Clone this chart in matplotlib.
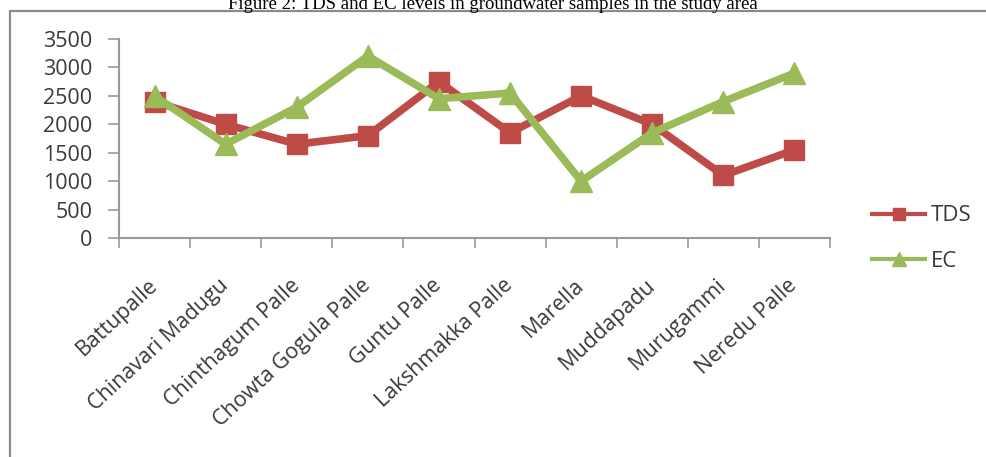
import matplotlib
matplotlib.use("Agg")
import matplotlib.pyplot as plt
from matplotlib.patches import Rectangle
from matplotlib.lines import Line2D

categories = ["Battupalle", "Chinavari Madugu", "Chinthagum Palle", "Chowta Gogula Palle",
              "Guntu Palle", "Lakshmakka Palle", "Marella", "Muddapadu", "Murugammi", "Neredu Palle"]
tds = [2400, 2000, 1650, 1800, 2750, 1850, 2500, 2000, 1100, 1550]
ec = [2500, 1650, 2300, 3200, 2450, 2550, 1000, 1850, 2400, 2900]
y_ticks = [0, 500, 1000, 1500, 2000, 2500, 3000, 3500]
title = "Figure 2: TDS and EC levels in groundwater samples in the study area"

W, H = 986, 457
fig = plt.figure(figsize=(W / 100, H / 100), dpi=100)
fig.patch.set_facecolor("white")

# outer chart frame
frame = Rectangle((10 / W, -0.2), 1.2, (H - 11) / H + 0.2, transform=fig.transFigure,
                  fill=False, edgecolor="#8a8a8a", linewidth=1.6, zorder=0)
fig.patches.append(frame)

fig.text(0.5, 1 - 9 / H, title, ha="center", va="baseline",
         family="Liberation Serif", fontsize=13.5, color="black")

ax = fig.add_axes([119 / W, 1 - 238 / H, (830 - 119) / W, 199 / H])
x = list(range(len(categories)))
red = "#BE4B48"
green = "#9BBB59"
ax.plot(x, tds, color=red, linewidth=5.5, marker="s", markersize=14, label="TDS",
        solid_joinstyle="miter", zorder=3)
ax.plot(x, ec, color=green, linewidth=5.5, marker="^", markersize=16, label="EC",
        solid_joinstyle="miter", zorder=3)

ax.set_xlim(-0.5, len(categories) - 0.5)
ax.set_ylim(0, 3500)
ax.set_yticks(y_ticks)
ax.set_yticklabels([str(v) for v in y_ticks], family="Open Sans", fontsize=15.5, color="#3a3a3a")
ax.set_xticks(x)
ax.set_xticklabels(categories, rotation=43, ha="right", va="center", rotation_mode="anchor",
                   family="Open Sans", fontsize=15.5, color="#3a3a3a")
ax.set_xticks([i - 0.5 for i in range(len(categories) + 1)], minor=True)
ax.tick_params(axis="x", which="major", length=0, pad=32)
ax.tick_params(axis="x", which="minor", length=7, color="#999999", width=1.2)
ax.tick_params(axis="y", length=8, color="#999999", width=1.2, pad=11)
for s in ["top", "right"]:
    ax.spines[s].set_visible(False)
for s in ["left", "bottom"]:
    ax.spines[s].set_color("#999999")
    ax.spines[s].set_linewidth(1.5)

h1 = Line2D([], [], color=red, linewidth=3, marker="s", markersize=9)
h2 = Line2D([], [], color=green, linewidth=3, marker="^", markersize=10)
fig.legend([h1, h2], ["TDS", "EC"], loc="center left", bbox_to_anchor=(872 / W, 1 - 238.5 / H),
           frameon=False, prop={"family": "Open Sans", "size": 16}, labelcolor="#3a3a3a",
           handlelength=2.4, handletextpad=0.25, labelspacing=1.1,
           borderpad=0, borderaxespad=0)

fig.savefig("out.png", dpi=100)
